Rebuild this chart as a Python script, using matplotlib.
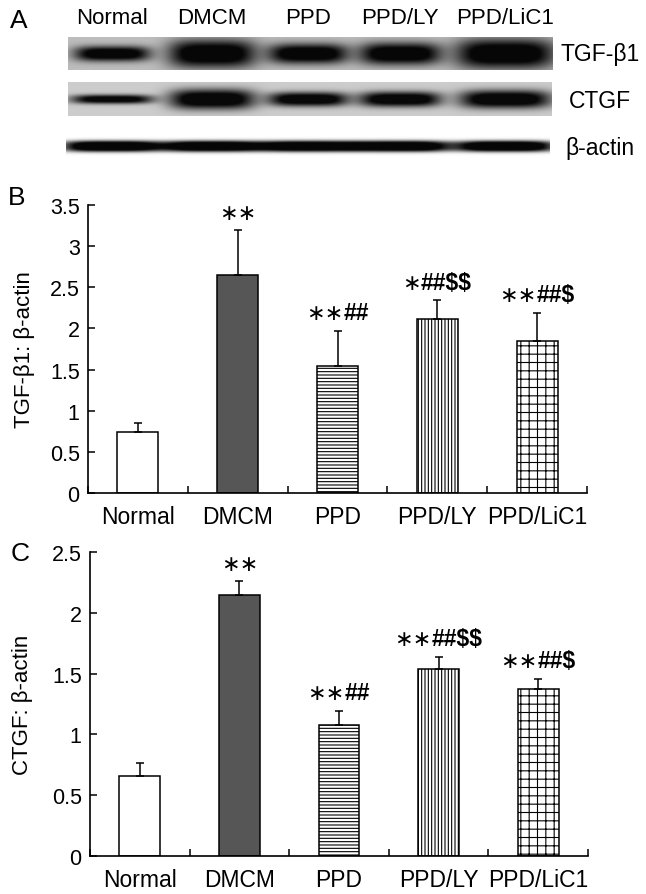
import numpy as np
import matplotlib
matplotlib.use('Agg')
import matplotlib.pyplot as plt
from matplotlib import font_manager
from matplotlib.offsetbox import TextArea, HPacker, AnnotationBbox

plt.rcParams['font.family'] = ['Liberation Sans', 'DejaVu Sans']
plt.rcParams['hatch.linewidth'] = 0.8

_names = {f.name for f in font_manager.fontManager.ttflist}
NARROW = 'Liberation Sans Narrow' if 'Liberation Sans Narrow' in _names else 'Liberation Sans'

# ---------------- data ----------------
groups = ['Normal', 'DMCM', 'PPD', 'PPD/LY', 'PPD/LiC1']
tgf_mean = [0.74, 2.65, 1.54, 2.11, 1.85]
tgf_err = [0.11, 0.55, 0.43, 0.23, 0.34]
ctgf_mean = [0.66, 2.145, 1.08, 1.535, 1.37]
ctgf_err = [0.105, 0.115, 0.115, 0.105, 0.085]
tgf_sig = ['', '∗∗', '∗∗##', '∗##$$', '∗∗##$']
ctgf_sig = ['', '∗∗', '∗∗##', '∗∗##$$', '∗∗##$']
blot_rows = ['TGF-β1', 'CTGF', 'β-actin']

# relative band densities / sizes read from the blot (A)
tgf_band_density = [1.00, 1.00, 1.00, 1.00, 1.00]
tgf_band_thick = [7.5, 14, 10, 11, 15]
tgf_band_halfwidth = [38, 44, 40, 41, 50]
ctgf_band_density = [0.95, 1.00, 1.00, 1.00, 1.00]
ctgf_band_thick = [4.5, 10, 7, 7.5, 9]
ctgf_band_halfwidth = [41, 43, 40, 41, 46]
actin_band_density = [1.0, 1.0, 1.0, 1.0, 1.0]

fill_colors = ['white', '#565656', 'white', 'white', 'white']
hatches = [None, None, '-----', '|||||', '++']

# ---------------- figure ----------------
W, H = 646, 895
fig = plt.figure(figsize=(W / 100, H / 100), dpi=100)

# ---- Panel A : western blot ----
axA = fig.add_axes([0, 1 - 160 / H, 1, 160 / H])
axA.axis('off')

lane_x = [112, 212, 308, 400, 505]


def blot(x0, x1, y0, y1, bg, dens, thick, halfw, cy):
    xs = np.arange(x0, x1, 0.5)
    ys = np.arange(y0, y1, 0.5)
    X, Y = np.meshgrid(xs, ys)
    dark = np.zeros_like(X)
    for cx, d, t, hw in zip(lane_x, dens, thick, halfw):
        dark += d * np.exp(-np.abs((X - cx) / hw) ** 4) * np.exp(-np.abs((Y - cy) / t) ** 2.5)
    dark = np.clip(dark * 1.25, 0, 1)
    img = bg * (1 - 0.96 * dark)
    axA.imshow(img, cmap='gray', vmin=0, vmax=1, extent=(x0, x1, y1, y0),
               aspect='auto', interpolation='bilinear')


blot(68, 553, 38, 71, 0.74, tgf_band_density, tgf_band_thick, tgf_band_halfwidth, 54.5)
blot(68, 552, 83, 117, 0.80, ctgf_band_density, ctgf_band_thick, ctgf_band_halfwidth, 100)

# beta-actin: continuous band
xs = np.arange(66, 550, 0.5)
ys = np.arange(135, 160, 0.5)
X, Y = np.meshgrid(xs, ys)
dark = np.zeros_like(X)
for cx, d in zip(lane_x, actin_band_density):
    dark += d * np.exp(-np.abs((X - cx) / 50) ** 4) * np.exp(-np.abs((Y - 147) / 5.5) ** 3)
dark = np.clip(dark * 1.4, 0, 1)
axA.imshow(1 - 0.97 * dark, cmap='gray', vmin=0, vmax=1, extent=(66, 550, 160, 135),
           aspect='auto', interpolation='bilinear')
axA.set_xlim(0, W)
axA.set_ylim(160, 0)

axA.text(19, 21, 'A', fontsize=19, ha='center', va='center')
for x, g in zip(lane_x, groups):
    axA.text(x, 18, g, fontsize=16, ha='center', va='center')
for y, r in zip([55, 101, 148], blot_rows):
    axA.text(600, y, r, fontsize=16.5, ha='center', va='center')


def sig_label(ax, s, xy, off):
    stars = s.rstrip('#$')
    rest = s[len(stars):]
    kids = [TextArea(stars, textprops=dict(family='DejaVu Sans', size=16))]
    if rest:
        kids.append(TextArea(rest.replace('$', r'\$'),
                             textprops=dict(family=NARROW, size=16.5, weight='bold')))
    pack = HPacker(children=kids, sep=0, pad=0, align='baseline')
    ab = AnnotationBbox(pack, xy, xybox=(0, off), boxcoords='offset points',
                        frameon=False, box_alignment=(0.5, 0), pad=0)
    ax.add_artist(ab)


# ---- Bar panels ----
def bar_panel(rect, means, errs, sigs, ymax, ylabel, letter, letter_xy):
    ax = fig.add_axes(rect)
    x = np.arange(len(groups))
    for i in x:
        ax.bar(i, means[i], width=0.41, color=fill_colors[i], edgecolor='black',
               linewidth=1.1, hatch=hatches[i], zorder=2)
    ax.errorbar(x, means, yerr=[np.zeros(len(errs)), errs], fmt='none',
                ecolor='black', elinewidth=1.1, capsize=3, capthick=1.1, zorder=3)
    for i in x:
        if sigs[i]:
            sig_label(ax, sigs[i], (i, means[i] + errs[i]), 5)
    ax.set_xlim(-0.5, 4.5)
    ax.set_ylim(0, ymax)
    ticks = np.arange(0, ymax + 0.01, 0.5)
    ax.set_yticks(ticks)
    ax.set_yticklabels([('%g' % v) for v in ticks])
    ax.set_xticks(x)
    ax.set_xticklabels(groups, family=[NARROW, 'DejaVu Sans'], fontsize=16.5)
    ax.set_xticks(np.arange(-0.5, 4.6, 1), minor=True)
    ax.tick_params(axis='x', which='major', length=0, pad=9)
    ax.tick_params(axis='x', which='minor', direction='in', length=5, width=1.1)
    ax.tick_params(axis='y', direction='in', length=5, width=1.1, labelsize=15.5, pad=6)
    for s in ['top', 'right']:
        ax.spines[s].set_visible(False)
    for s in ['left', 'bottom']:
        ax.spines[s].set_linewidth(1.2)
    ax.set_ylabel(ylabel, fontsize=16)
    fig.text(letter_xy[0] / W, 1 - letter_xy[1] / H, letter, fontsize=19,
             ha='center', va='center')
    return ax


axB = bar_panel([88 / W, 1 - 494 / H, 499 / W, 288 / H], tgf_mean, tgf_err, tgf_sig,
                3.5, 'TGF-β1: β-actin', 'B', (17, 198))
axB.yaxis.set_label_coords((35 - 88) / 499, 0.5)

axC = bar_panel([90 / W, 1 - 857 / H, 498 / W, 304 / H], ctgf_mean, ctgf_err, ctgf_sig,
                2.5, 'CTGF: β-actin', 'C', (20, 554))
axC.yaxis.set_label_coords((33 - 90) / 498, 0.5)

fig.savefig('out.png', dpi=100)
